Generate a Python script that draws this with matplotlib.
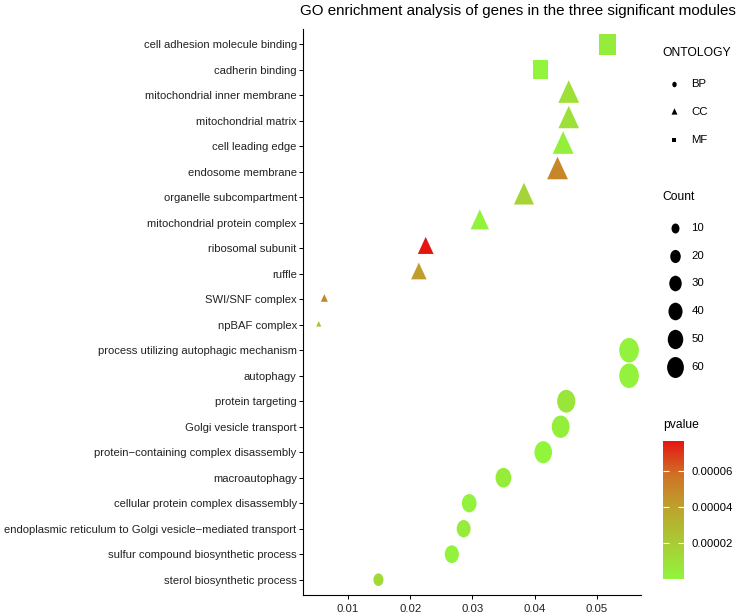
import numpy as np
import matplotlib
matplotlib.use('Agg')
import matplotlib.pyplot as plt
from matplotlib.path import Path
from matplotlib.transforms import Affine2D
from matplotlib.colors import LinearSegmentedColormap, Normalize
from matplotlib.cm import ScalarMappable

plt.rcParams['font.family'] = ['Liberation Sans', 'DejaVu Sans']

# GO terms, top to bottom
terms = ['cell adhesion molecule binding', 'cadherin binding',
         'mitochondrial inner membrane', 'mitochondrial matrix',
         'cell leading edge', 'endosome membrane', 'organelle subcompartment',
         'mitochondrial protein complex', 'ribosomal subunit', 'ruffle',
         'SWI/SNF complex', 'npBAF complex',
         'process utilizing autophagic mechanism', 'autophagy',
         'protein targeting', 'Golgi vesicle transport',
         'protein\u2212containing complex disassembly', 'macroautophagy',
         'cellular protein complex disassembly',
         'endoplasmic reticulum to Golgi vesicle\u2212mediated transport',
         'sulfur compound biosynthetic process', 'sterol biosynthetic process']
ontology = ['MF', 'MF', 'CC', 'CC', 'CC', 'CC', 'CC', 'CC', 'CC', 'CC', 'CC', 'CC',
            'BP', 'BP', 'BP', 'BP', 'BP', 'BP', 'BP', 'BP', 'BP', 'BP']
gene_ratio = [0.0517, 0.0410, 0.0455, 0.0455, 0.0446, 0.0437, 0.0383, 0.0312,
              0.0225, 0.0214, 0.0062, 0.0053,
              0.0552, 0.0552, 0.0451, 0.0442, 0.0414, 0.0350, 0.0295, 0.0286,
              0.0267, 0.0149]
count = [79, 63, 50, 49, 50, 50, 46, 38, 26, 25, 3, 1,
         85, 85, 72, 69, 67, 52, 44, 39, 41, 18]
pvalue = [5e-6, 1e-6, 1e-5, 1e-5, 3e-6, 5.0e-5, 1.6e-5, 2e-6, 7.67e-5, 4.1e-5, 5.1e-5, 2.3e-5,
          2e-6, 2e-6, 8e-6, 3e-6, 3e-7, 4e-6, 2e-6, 5e-6, 2e-6, 1.4e-5]

count_breaks = [10, 20, 30, 40, 50, 60]
p_ticks = [0.00002, 0.00004, 0.00006]
x_ticks = [0.01, 0.02, 0.03, 0.04, 0.05]

W, H = 740, 615
SQ = 0.8  # the picture is squeezed horizontally
PX = 0.72  # points per pixel at dpi 100

circle = Affine2D().scale(SQ, 1).transform_path(Path.unit_circle())
tri = Path([(0, 1.555), (1.346 * SQ, -0.7776), (-1.346 * SQ, -0.7776), (0, 1.555)],
           [Path.MOVETO, Path.LINETO, Path.LINETO, Path.CLOSEPOLY])
sqr = Path([(-0.886 * SQ, -0.886), (0.886 * SQ, -0.886), (0.886 * SQ, 0.886),
            (-0.886 * SQ, 0.886), (-0.886 * SQ, -0.886)],
           [Path.MOVETO, Path.LINETO, Path.LINETO, Path.LINETO, Path.CLOSEPOLY])
# marker path and factor from circle diameter to marker size
shapes = {'BP': (circle, 1.0), 'CC': (tri, 1.555), 'MF': (sqr, 0.886)}


def diam(c):
    # circle-equivalent diameter in pixels for a count
    return 2.4 + 2.4 * np.sqrt(np.asarray(c, float))


cmap = LinearSegmentedColormap.from_list('gr', [
    (0.0, (145/255, 245/255, 60/255)),
    (0.25, (168/255, 205/255, 52/255)),
    (0.5, (188/255, 165/255, 45/255)),
    (0.75, (207/255, 115/255, 38/255)),
    (1.0, (228/255, 22/255, 16/255))])
norm = Normalize(min(pvalue), max(pvalue))

fig = plt.figure(figsize=(W / 100, H / 100), dpi=100)
ax = fig.add_axes([303 / W, 1 - 595 / H, (640.5 - 303) / W, (595 - 29) / H])

ypos = np.arange(len(terms))
gr = np.array(gene_ratio)
ds = diam(count)
cols = cmap(norm(pvalue))
ont = np.array(ontology)
for key, (mk, f) in shapes.items():
    m = ont == key
    ax.scatter(gr[m], ypos[m], s=(ds[m] * f * PX) ** 2, marker=mk, c=cols[m],
               linewidths=0)

ax.set_xlim(0.00277, 0.05704)
ax.set_ylim(len(terms) - 0.4, -0.6)
ax.set_yticks(ypos)
ax.set_yticklabels(terms)
ax.set_xticks(x_ticks)
ax.set_xticklabels(['%.2f' % v for v in x_ticks])
for s in ['top', 'right']:
    ax.spines[s].set_visible(False)
for s in ['left', 'bottom']:
    ax.spines[s].set_linewidth(0.8)
ax.tick_params(axis='both', length=3, width=0.7, colors='black', labelcolor='#222222')
ax.tick_params(axis='y', labelsize=8.15, pad=1.5)
ax.tick_params(axis='x', labelsize=8.2, pad=3.5)

fig.text(300 / W, 1 - 11 / H, 'GO enrichment analysis of genes in the three significant modules',
         fontsize=10.9, ha='left', va='center')

# legends, placed in pixel coordinates
lax = fig.add_axes([0, 0, 1, 1])
lax.set_xlim(0, W)
lax.set_ylim(H, 0)
lax.axis('off')

lx = 662.7
lax.text(lx, 53, 'ONTOLOGY', fontsize=8.7, ha='left', va='center')
for i, key in enumerate(['BP', 'CC', 'MF']):
    mk, f = shapes[key]
    yy = 84 + 28 * i
    lax.scatter([673.5], [yy], s=(5.5 * f * PX) ** 2, marker=mk, c='black', linewidths=0)
    lax.text(691.5, yy, key, fontsize=8.2, ha='left', va='center')

lax.text(lx, 197, 'Count', fontsize=8.7, ha='left', va='center')
for i, b in enumerate(count_breaks):
    yy = 228 + 27.7 * i
    lax.scatter([675], [yy], s=(diam(b) * PX) ** 2, marker=circle, c='black', linewidths=0)
    lax.text(691.5, yy, str(b), fontsize=8.2, ha='left', va='center')

lax.text(lx, 425, 'pvalue', fontsize=8.7, ha='left', va='center')
cax = fig.add_axes([lx / W, 1 - 579 / H, 21.5 / W, 138 / H])
cb = fig.colorbar(ScalarMappable(norm=norm, cmap=cmap), cax=cax)
cb.outline.set_visible(False)
cb.set_ticks(p_ticks)
cb.set_ticklabels(['%.5f' % v for v in p_ticks])
cax.tick_params(axis='y', direction='in', length=4, width=0.8, color='white',
                left=True, right=True, labelsize=8.2, pad=5.5)

fig.savefig('out.png', dpi=100)
